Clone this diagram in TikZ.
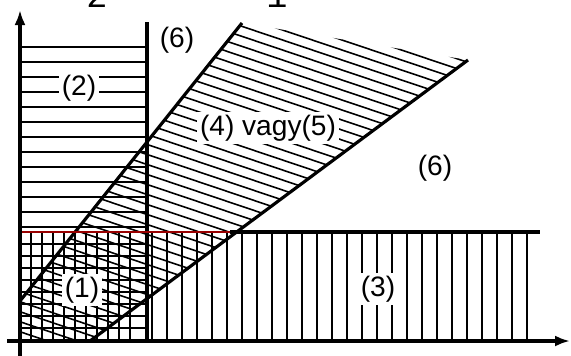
\documentclass[tikz,border=0pt]{standalone}
\usepackage{fontspec}
\setsansfont{Liberation Sans}
\setmonofont{Liberation Mono}
\usetikzlibrary{arrows.meta,positioning}

\begin{document}
\begin{tikzpicture}[
    x=0.2mm, y=-0.2mm,
    edge/.style={line width=1.8pt},
    axis/.style={line width=1.8pt, -{Latex[length=3mm,width=2.2mm]}},
    hatch/.style={line width=0.9pt},
    lbl/.style={fill=white, inner sep=1.5pt, font=\sffamily\fontsize{16}{16}\selectfont}
]
\useasboundingbox (0,0) rectangle (571,355);

% corner points
\coordinate (O) at (20,341);
\coordinate (ytop) at (20,10);
\coordinate (ybot) at (20,360);
\coordinate (xl) at (7,341);
\coordinate (xr) at (570,341);
\coordinate (st) at (147,22);
\coordinate (sb) at (147,341);
\coordinate (ua) at (20,301);
\coordinate (ub) at (242,23);
\coordinate (la) at (90,341);
\coordinate (lb) at (468,60);
\coordinate (hl) at (20,232);
\coordinate (hm) at (230,232);
\coordinate (hr) at (540,232);

% Strip (2)
\foreach \y in {47,62,...,227} \draw[hatch] (20,\y) -- (147,\y);
\foreach \y in {244,256,...,335} \draw[hatch] (20,\y) -- (147,\y);

% Strip (3)
\foreach \x in {31,42,...,140} \draw[hatch] (\x,232) -- (\x,341);
\foreach \x in {152,167,...,527} \draw[hatch] (\x,232) -- (\x,341);

% Wedge (4)/(5)
\begin{scope}
\clip (ua) -- (ub) -- (lb) -- (la) -- (O) -- cycle;
\foreach \c in {-95,-85,...,335} \draw[hatch] (0,\c) -- (571,{\c+192});
\end{scope}

% Boundaries
\draw[edge] (st) -- (sb);
\draw[edge] (ua) -- (ub);
\draw[edge] (la) -- (lb);
\draw[red!60!black, line width=1pt] (hl) -- (hm);
\draw[edge] (hm) -- (hr);
\draw[axis] (ybot) -- (ytop);
\draw[axis] (xl) -- (xr);

% Labels
\node[lbl] (six1) at (177,40) {(6)};
\node[lbl] (two) at (79,88) {(2)};
\node[lbl] (wedge) at (268,128) {(4) vagy(5)};
\node[lbl] (six2) at (435,168) {(6)};
\node[lbl] (three) at (378,289) {(3)};
\node[lbl] (one) at (82,290) {(1)};

% cut-off digits at the top
\node[anchor=base, inner sep=0pt, font=\ttfamily\fontsize{20}{20}\selectfont] (d2) at (97,7) {2};
\node[anchor=base, inner sep=0pt, font=\ttfamily\fontsize{20}{20}\selectfont] (d1) at (277,7) {1};
\end{tikzpicture}
\end{document}
